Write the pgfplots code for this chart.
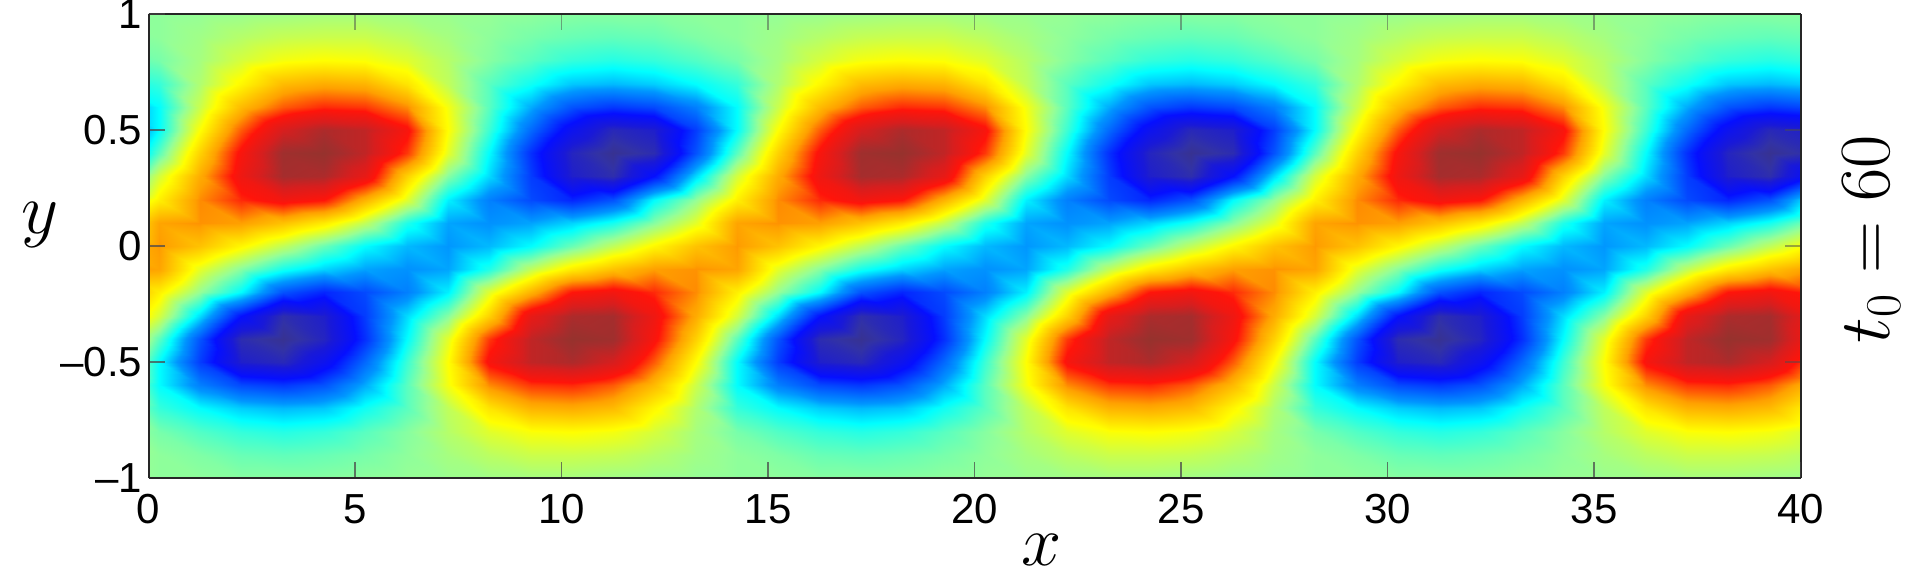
\documentclass[border=0pt]{standalone}
\usepackage[no-math]{fontspec}
\setmainfont{Liberation Sans}
\usepackage{pgfplots}
\usepackage{pgfplotstable}
\pgfplotsset{compat=1.18}
\pgfplotstableread[row sep=\\]{
x y z\\
.25 1 -.01\\ 1.25 1 0\\ 2.25 1 .01\\ 3.25 1 .02\\ 4.25 1 .03\\ 5.25 1 .03\\ 6.25 1 .02\\ 7.25 1 .01\\ 8.25 1 0\\ 9.25 1 -.01\\ 10.25 1 -.02\\ 11.25 1 -.02\\ 12.25 1 -.02\\ 13.25 1 -.01\\ 14.25 1 -.01\\
.25 .9 -.01\\ 1.25 .9 .02\\ 2.25 .9 .06\\ 3.25 .9 .09\\ 4.25 .9 .1\\ 5.25 .9 .1\\ 6.25 .9 .07\\ 7.25 .9 .03\\ 8.25 .9 -.01\\ 9.25 .9 -.04\\ 10.25 .9 -.06\\ 11.25 .9 -.07\\ 12.25 .9 -.06\\ 13.25 .9 -.03\\ 14.25 .9 -.01\\
.25 .8 -.04\\ 1.25 .8 .03\\ 2.25 .8 .12\\ 3.25 .8 .18\\ 4.25 .8 .2\\ 5.25 .8 .19\\ 6.25 .8 .14\\ 7.25 .8 .06\\ 8.25 .8 -.02\\ 9.25 .8 -.08\\ 10.25 .8 -.13\\ 11.25 .8 -.15\\ 12.25 .8 -.13\\ 13.25 .8 -.09\\ 14.25 .8 -.04\\
.25 .7 -.13\\ 1.25 .7 .05\\ 2.25 .7 .22\\ 3.25 .7 .38\\ 4.25 .7 .42\\ 5.25 .7 .4\\ 6.25 .7 .27\\ 7.25 .7 .08\\ 8.25 .7 -.08\\ 9.25 .7 -.18\\ 10.25 .7 -.28\\ 11.25 .7 -.3\\ 12.25 .7 -.27\\ 13.25 .7 -.2\\ 14.25 .7 -.13\\
.25 .6 -.2\\ 1.25 .6 .1\\ 2.25 .6 .38\\ 3.25 .6 .55\\ 4.25 .6 .62\\ 5.25 .6 .6\\ 6.25 .6 .48\\ 7.25 .6 .18\\ 8.25 .6 -.08\\ 9.25 .6 -.32\\ 10.25 .6 -.5\\ 11.25 .6 -.56\\ 12.25 .6 -.52\\ 13.25 .6 -.4\\ 14.25 .6 -.2\\
.25 .5 -.2\\ 1.25 .5 .2\\ 2.25 .5 .55\\ 3.25 .5 .82\\ 4.25 .5 .93\\ 5.25 .5 .88\\ 6.25 .5 .68\\ 7.25 .5 .2\\ 8.25 .5 -.12\\ 9.25 .5 -.45\\ 10.25 .5 -.72\\ 11.25 .5 -.9\\ 12.25 .5 -.85\\ 13.25 .5 -.55\\ 14.25 .5 -.2\\
.25 .4 -.08\\ 1.25 .4 .32\\ 2.25 .4 .68\\ 3.25 .4 .97\\ 4.25 .4 1\\ 5.25 .4 .88\\ 6.25 .4 .6\\ 7.25 .4 .15\\ 8.25 .4 -.2\\ 9.25 .4 -.58\\ 10.25 .4 -.88\\ 11.25 .4 -1\\ 12.25 .4 -.92\\ 13.25 .4 -.5\\ 14.25 .4 -.08\\
.25 .3 .12\\ 1.25 .3 .42\\ 2.25 .3 .72\\ 3.25 .3 .95\\ 4.25 .3 .93\\ 5.25 .3 .75\\ 6.25 .3 .32\\ 7.25 .3 -.02\\ 8.25 .3 -.25\\ 9.25 .3 -.55\\ 10.25 .3 -.85\\ 11.25 .3 -.93\\ 12.25 .3 -.65\\ 13.25 .3 -.25\\ 14.25 .3 .12\\
.25 .2 .24\\ 1.25 .2 .48\\ 2.25 .2 .62\\ 3.25 .2 .7\\ 4.25 .2 .65\\ 5.25 .2 .4\\ 6.25 .2 .14\\ 7.25 .2 -.22\\ 8.25 .2 -.4\\ 9.25 .2 -.52\\ 10.25 .2 -.6\\ 11.25 .2 -.5\\ 12.25 .2 -.2\\ 13.25 .2 0\\ 14.25 .2 .24\\
.25 .1 .44\\ 1.25 .1 .47\\ 2.25 .1 .45\\ 3.25 .1 .36\\ 4.25 .1 .25\\ 5.25 .1 .08\\ 6.25 .1 -.16\\ 7.25 .1 -.33\\ 8.25 .1 -.36\\ 9.25 .1 -.33\\ 10.25 .1 -.26\\ 11.25 .1 -.17\\ 12.25 .1 -.02\\ 13.25 .1 .15\\ 14.25 .1 .44\\
.25 0 .46\\ 1.25 0 .36\\ 2.25 0 .22\\ 3.25 0 .08\\ 4.25 0 -.06\\ 5.25 0 -.2\\ 6.25 0 -.3\\ 7.25 0 -.35\\ 8.25 0 -.3\\ 9.25 0 -.2\\ 10.25 0 -.06\\ 11.25 0 .08\\ 12.25 0 .22\\ 13.25 0 .36\\ 14.25 0 .46\\
.25 -.1 .44\\ 1.25 -.1 .15\\ 2.25 -.1 -.02\\ 3.25 -.1 -.17\\ 4.25 -.1 -.26\\ 5.25 -.1 -.33\\ 6.25 -.1 -.36\\ 7.25 -.1 -.33\\ 8.25 -.1 -.16\\ 9.25 -.1 .08\\ 10.25 -.1 .25\\ 11.25 -.1 .36\\ 12.25 -.1 .45\\ 13.25 -.1 .47\\ 14.25 -.1 .44\\
.25 -.2 .24\\ 1.25 -.2 0\\ 2.25 -.2 -.2\\ 3.25 -.2 -.5\\ 4.25 -.2 -.6\\ 5.25 -.2 -.52\\ 6.25 -.2 -.4\\ 7.25 -.2 -.22\\ 8.25 -.2 .14\\ 9.25 -.2 .4\\ 10.25 -.2 .65\\ 11.25 -.2 .7\\ 12.25 -.2 .62\\ 13.25 -.2 .48\\ 14.25 -.2 .24\\
.25 -.3 .12\\ 1.25 -.3 -.25\\ 2.25 -.3 -.65\\ 3.25 -.3 -.93\\ 4.25 -.3 -.85\\ 5.25 -.3 -.55\\ 6.25 -.3 -.25\\ 7.25 -.3 -.02\\ 8.25 -.3 .32\\ 9.25 -.3 .75\\ 10.25 -.3 .93\\ 11.25 -.3 .95\\ 12.25 -.3 .72\\ 13.25 -.3 .42\\ 14.25 -.3 .12\\
.25 -.4 -.08\\ 1.25 -.4 -.5\\ 2.25 -.4 -.92\\ 3.25 -.4 -1\\ 4.25 -.4 -.88\\ 5.25 -.4 -.58\\ 6.25 -.4 -.2\\ 7.25 -.4 .15\\ 8.25 -.4 .6\\ 9.25 -.4 .88\\ 10.25 -.4 1\\ 11.25 -.4 .97\\ 12.25 -.4 .68\\ 13.25 -.4 .32\\ 14.25 -.4 -.08\\
.25 -.5 -.2\\ 1.25 -.5 -.55\\ 2.25 -.5 -.85\\ 3.25 -.5 -.9\\ 4.25 -.5 -.72\\ 5.25 -.5 -.45\\ 6.25 -.5 -.12\\ 7.25 -.5 .2\\ 8.25 -.5 .68\\ 9.25 -.5 .88\\ 10.25 -.5 .93\\ 11.25 -.5 .82\\ 12.25 -.5 .55\\ 13.25 -.5 .2\\ 14.25 -.5 -.2\\
.25 -.6 -.2\\ 1.25 -.6 -.4\\ 2.25 -.6 -.52\\ 3.25 -.6 -.56\\ 4.25 -.6 -.5\\ 5.25 -.6 -.32\\ 6.25 -.6 -.08\\ 7.25 -.6 .18\\ 8.25 -.6 .48\\ 9.25 -.6 .6\\ 10.25 -.6 .62\\ 11.25 -.6 .55\\ 12.25 -.6 .38\\ 13.25 -.6 .1\\ 14.25 -.6 -.2\\
.25 -.7 -.13\\ 1.25 -.7 -.2\\ 2.25 -.7 -.27\\ 3.25 -.7 -.3\\ 4.25 -.7 -.28\\ 5.25 -.7 -.18\\ 6.25 -.7 -.08\\ 7.25 -.7 .08\\ 8.25 -.7 .27\\ 9.25 -.7 .4\\ 10.25 -.7 .42\\ 11.25 -.7 .38\\ 12.25 -.7 .22\\ 13.25 -.7 .05\\ 14.25 -.7 -.13\\
.25 -.8 -.04\\ 1.25 -.8 -.09\\ 2.25 -.8 -.13\\ 3.25 -.8 -.15\\ 4.25 -.8 -.13\\ 5.25 -.8 -.08\\ 6.25 -.8 -.02\\ 7.25 -.8 .06\\ 8.25 -.8 .14\\ 9.25 -.8 .19\\ 10.25 -.8 .2\\ 11.25 -.8 .18\\ 12.25 -.8 .12\\ 13.25 -.8 .03\\ 14.25 -.8 -.04\\
.25 -.9 -.01\\ 1.25 -.9 -.03\\ 2.25 -.9 -.06\\ 3.25 -.9 -.07\\ 4.25 -.9 -.06\\ 5.25 -.9 -.04\\ 6.25 -.9 -.01\\ 7.25 -.9 .03\\ 8.25 -.9 .07\\ 9.25 -.9 .1\\ 10.25 -.9 .1\\ 11.25 -.9 .09\\ 12.25 -.9 .06\\ 13.25 -.9 .02\\ 14.25 -.9 -.01\\
.25 -1 -.01\\ 1.25 -1 -.01\\ 2.25 -1 -.02\\ 3.25 -1 -.02\\ 4.25 -1 -.02\\ 5.25 -1 -.01\\ 6.25 -1 0\\ 7.25 -1 .01\\ 8.25 -1 .02\\ 9.25 -1 .03\\ 10.25 -1 .03\\ 11.25 -1 .02\\ 12.25 -1 .01\\ 13.25 -1 0\\ 14.25 -1 -.01\\
}\field
\begin{document}
\begin{tikzpicture}
\useasboundingbox (0,0) rectangle (958.5pt,284.5pt);
\begin{axis}[
  at={(74.25pt,45.5pt)}, anchor=south west,
  scale only axis, width=826pt, height=232pt,
  view={0}{90},
  xmin=0, xmax=40, ymin=-1, ymax=1,
  xtick={0,5,...,40}, ytick={-1,-0.5,0,0.5,1},
  xticklabels={0,5,10,15,20,25,30,35,40},
  yticklabels={--1,--0.5,0,0.5,1},
  tick align=inside, major tick length=8pt,
  tick style={draw=black!70, line width=0.6pt, opacity=0.5},
  tick label style={font=\fontsize{21}{21}\selectfont, inner sep=0pt},
  xtick pos=both, ytick pos=both,
  xticklabel pos=bottom, yticklabel pos=left,
  x tick label style={yshift=-8pt},
  y tick label style={xshift=-3pt},
  axis line style={draw=black!85, line width=1pt},
  axis on top, clip=true,
  point meta min=-1, point meta max=1,
  colormap={fieldjet}{rgb255(0pt)=(55,50,145); rgb255(5pt)=(50,50,165); rgb255(18pt)=(25,25,215); rgb255(35pt)=(5,15,255); rgb255(65pt)=(0,150,255); rgb255(80pt)=(0,255,255); rgb255(100pt)=(150,255,150); rgb255(120pt)=(255,255,0); rgb255(145pt)=(255,160,0); rgb255(165pt)=(255,20,10); rgb255(182pt)=(215,30,30); rgb255(195pt)=(165,45,45); rgb255(200pt)=(150,50,45)},
]
\addplot3[surf, shader=interp, mesh/cols=15] table[x expr=\thisrow{x}-14, y=y, z=z] {\field};
\addplot3[surf, shader=interp, mesh/cols=15] table[x=x, y=y, z=z] {\field};
\addplot3[surf, shader=interp, mesh/cols=15] table[x expr=\thisrow{x}+14, y=y, z=z] {\field};
\addplot3[surf, shader=interp, mesh/cols=15] table[x expr=\thisrow{x}+28, y=y, z=z] {\field};
\end{axis}
\node[scale=1.45,inner sep=0pt] at (521pt,9.5pt) {\fontsize{24}{24}\selectfont $x$};
\node[scale=1.45,inner sep=0pt] at (20pt,172pt) {\fontsize{24}{24}\selectfont $y$};
\node[rotate=90,scale=1.45,inner sep=0pt] at (936pt,165pt) {\fontsize{24}{24}\selectfont $t_0=60$};
\end{tikzpicture}
\end{document}
